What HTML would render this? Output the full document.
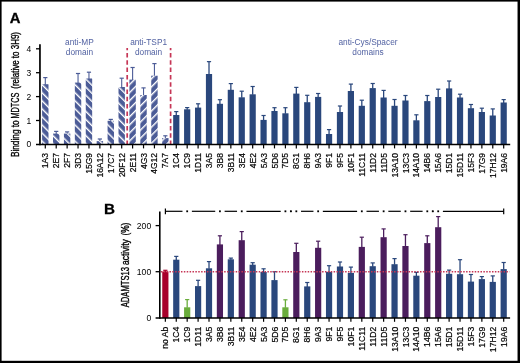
<!DOCTYPE html><html><head><meta charset="utf-8"><style>html,body{margin:0;padding:0;background:#fff;width:520px;height:363px;overflow:hidden}svg{display:block;will-change:transform}text{font-family:"Liberation Sans",sans-serif}</style></head><body>
<svg width="520" height="363" viewBox="0 0 520 363">
<defs>
<pattern id="hb" patternUnits="userSpaceOnUse" x="-1.76" width="5.7" height="5.7" patternTransform="rotate(-45)"><rect width="5.7" height="5.7" fill="#4c5c97"/><rect x="0" y="0" width="1.4" height="5.7" fill="#fff"/></pattern>
<pattern id="hf" patternUnits="userSpaceOnUse" x="2.48" width="5.7" height="5.7" patternTransform="rotate(45)"><rect width="5.7" height="5.7" fill="#4c5c97"/><rect x="0" y="0" width="1.4" height="5.7" fill="#fff"/></pattern>
</defs>
<rect x="0" y="0" width="520" height="363" fill="#fff"/>
<text x="9.8" y="23.0" font-size="14.8" font-weight="bold" stroke="#000" stroke-width="0.3" fill="#000">A</text>
<text x="103.9" y="213.6" font-size="15.2" font-weight="bold" stroke="#000" stroke-width="0.3" fill="#000">B</text>
<pattern id="hb0" patternUnits="userSpaceOnUse" x="-2.36" width="5.7" height="5.7" patternTransform="rotate(-45)"><rect width="5.7" height="5.7" fill="#4c5c97"/><rect x="0" y="0" width="1.4" height="5.7" fill="#fff"/></pattern>
<line x1="45.30" y1="77.60" x2="45.30" y2="84.70" stroke="#4c5c97" stroke-width="1.1"/>
<line x1="43.20" y1="77.60" x2="47.40" y2="77.60" stroke="#4c5c97" stroke-width="1.2"/>
<rect x="42.10" y="84.20" width="6.4" height="60.20" fill="url(#hb0)"/>
<pattern id="hb1" patternUnits="userSpaceOnUse" x="-2.20" width="5.7" height="5.7" patternTransform="rotate(-45)"><rect width="5.7" height="5.7" fill="#4c5c97"/><rect x="0" y="0" width="1.4" height="5.7" fill="#fff"/></pattern>
<line x1="56.21" y1="131.40" x2="56.21" y2="134.10" stroke="#4c5c97" stroke-width="1.1"/>
<line x1="54.11" y1="131.40" x2="58.31" y2="131.40" stroke="#4c5c97" stroke-width="1.2"/>
<rect x="53.01" y="133.60" width="6.4" height="10.80" fill="url(#hb1)"/>
<pattern id="hb2" patternUnits="userSpaceOnUse" x="-2.03" width="5.7" height="5.7" patternTransform="rotate(-45)"><rect width="5.7" height="5.7" fill="#4c5c97"/><rect x="0" y="0" width="1.4" height="5.7" fill="#fff"/></pattern>
<line x1="67.13" y1="131.90" x2="67.13" y2="134.10" stroke="#4c5c97" stroke-width="1.1"/>
<line x1="65.03" y1="131.90" x2="69.23" y2="131.90" stroke="#4c5c97" stroke-width="1.2"/>
<rect x="63.93" y="133.60" width="6.4" height="10.80" fill="url(#hb2)"/>
<pattern id="hb3" patternUnits="userSpaceOnUse" x="-1.86" width="5.7" height="5.7" patternTransform="rotate(-45)"><rect width="5.7" height="5.7" fill="#4c5c97"/><rect x="0" y="0" width="1.4" height="5.7" fill="#fff"/></pattern>
<line x1="78.04" y1="73.50" x2="78.04" y2="83.10" stroke="#4c5c97" stroke-width="1.1"/>
<line x1="75.94" y1="73.50" x2="80.14" y2="73.50" stroke="#4c5c97" stroke-width="1.2"/>
<rect x="74.84" y="82.60" width="6.4" height="61.80" fill="url(#hb3)"/>
<pattern id="hb4" patternUnits="userSpaceOnUse" x="-1.69" width="5.7" height="5.7" patternTransform="rotate(-45)"><rect width="5.7" height="5.7" fill="#4c5c97"/><rect x="0" y="0" width="1.4" height="5.7" fill="#fff"/></pattern>
<line x1="88.96" y1="72.20" x2="88.96" y2="79.00" stroke="#4c5c97" stroke-width="1.1"/>
<line x1="86.86" y1="72.20" x2="91.06" y2="72.20" stroke="#4c5c97" stroke-width="1.2"/>
<rect x="85.76" y="78.50" width="6.4" height="65.90" fill="url(#hb4)"/>
<pattern id="hb5" patternUnits="userSpaceOnUse" x="-1.53" width="5.7" height="5.7" patternTransform="rotate(-45)"><rect width="5.7" height="5.7" fill="#4c5c97"/><rect x="0" y="0" width="1.4" height="5.7" fill="#fff"/></pattern>
<line x1="99.87" y1="139.00" x2="99.87" y2="141.60" stroke="#4c5c97" stroke-width="1.1"/>
<line x1="97.77" y1="139.00" x2="101.97" y2="139.00" stroke="#4c5c97" stroke-width="1.2"/>
<rect x="96.67" y="141.10" width="6.4" height="3.30" fill="url(#hb5)"/>
<pattern id="hb6" patternUnits="userSpaceOnUse" x="-1.36" width="5.7" height="5.7" patternTransform="rotate(-45)"><rect width="5.7" height="5.7" fill="#4c5c97"/><rect x="0" y="0" width="1.4" height="5.7" fill="#fff"/></pattern>
<line x1="110.78" y1="119.40" x2="110.78" y2="121.30" stroke="#4c5c97" stroke-width="1.1"/>
<line x1="108.68" y1="119.40" x2="112.88" y2="119.40" stroke="#4c5c97" stroke-width="1.2"/>
<rect x="107.58" y="120.80" width="6.4" height="23.60" fill="url(#hb6)"/>
<pattern id="hb7" patternUnits="userSpaceOnUse" x="-1.19" width="5.7" height="5.7" patternTransform="rotate(-45)"><rect width="5.7" height="5.7" fill="#4c5c97"/><rect x="0" y="0" width="1.4" height="5.7" fill="#fff"/></pattern>
<line x1="121.70" y1="78.20" x2="121.70" y2="87.50" stroke="#4c5c97" stroke-width="1.1"/>
<line x1="119.60" y1="78.20" x2="123.80" y2="78.20" stroke="#4c5c97" stroke-width="1.2"/>
<rect x="118.50" y="87.00" width="6.4" height="57.40" fill="url(#hb7)"/>
<line x1="132.61" y1="67.50" x2="132.61" y2="80.10" stroke="#4c5c97" stroke-width="1.1"/>
<line x1="130.51" y1="67.50" x2="134.71" y2="67.50" stroke="#4c5c97" stroke-width="1.2"/>
<rect x="129.41" y="79.60" width="6.4" height="64.80" fill="url(#hf)"/>
<line x1="143.53" y1="87.90" x2="143.53" y2="95.50" stroke="#4c5c97" stroke-width="1.1"/>
<line x1="141.43" y1="87.90" x2="145.63" y2="87.90" stroke="#4c5c97" stroke-width="1.2"/>
<rect x="140.33" y="95.00" width="6.4" height="49.40" fill="url(#hf)"/>
<line x1="154.44" y1="63.60" x2="154.44" y2="76.20" stroke="#4c5c97" stroke-width="1.1"/>
<line x1="152.34" y1="63.60" x2="156.54" y2="63.60" stroke="#4c5c97" stroke-width="1.2"/>
<rect x="151.24" y="75.70" width="6.4" height="68.70" fill="url(#hf)"/>
<line x1="165.35" y1="135.80" x2="165.35" y2="138.60" stroke="#4c5c97" stroke-width="1.1"/>
<line x1="163.25" y1="135.80" x2="167.45" y2="135.80" stroke="#4c5c97" stroke-width="1.2"/>
<rect x="162.15" y="138.10" width="6.4" height="6.30" fill="url(#hf)"/>
<line x1="176.27" y1="111.60" x2="176.27" y2="115.50" stroke="#2a477c" stroke-width="1.3"/>
<line x1="174.17" y1="111.60" x2="178.37" y2="111.60" stroke="#2a477c" stroke-width="1.2"/>
<rect x="173.17" y="115.00" width="6.2" height="29.40" fill="#2a477c"/>
<line x1="187.18" y1="107.60" x2="187.18" y2="109.80" stroke="#2a477c" stroke-width="1.3"/>
<line x1="185.08" y1="107.60" x2="189.28" y2="107.60" stroke="#2a477c" stroke-width="1.2"/>
<rect x="184.08" y="109.30" width="6.2" height="35.10" fill="#2a477c"/>
<line x1="198.10" y1="103.80" x2="198.10" y2="108.10" stroke="#2a477c" stroke-width="1.3"/>
<line x1="196.00" y1="103.80" x2="200.20" y2="103.80" stroke="#2a477c" stroke-width="1.2"/>
<rect x="195.00" y="107.60" width="6.2" height="36.80" fill="#2a477c"/>
<line x1="209.01" y1="61.65" x2="209.01" y2="74.50" stroke="#2a477c" stroke-width="1.3"/>
<line x1="206.91" y1="61.65" x2="211.11" y2="61.65" stroke="#2a477c" stroke-width="1.2"/>
<rect x="205.91" y="74.00" width="6.2" height="70.40" fill="#2a477c"/>
<line x1="219.92" y1="99.70" x2="219.92" y2="104.30" stroke="#2a477c" stroke-width="1.3"/>
<line x1="217.82" y1="99.70" x2="222.02" y2="99.70" stroke="#2a477c" stroke-width="1.2"/>
<rect x="216.82" y="103.80" width="6.2" height="40.60" fill="#2a477c"/>
<line x1="230.84" y1="83.60" x2="230.84" y2="90.30" stroke="#2a477c" stroke-width="1.3"/>
<line x1="228.74" y1="83.60" x2="232.94" y2="83.60" stroke="#2a477c" stroke-width="1.2"/>
<rect x="227.74" y="89.80" width="6.2" height="54.60" fill="#2a477c"/>
<line x1="241.75" y1="91.20" x2="241.75" y2="97.80" stroke="#2a477c" stroke-width="1.3"/>
<line x1="239.65" y1="91.20" x2="243.85" y2="91.20" stroke="#2a477c" stroke-width="1.2"/>
<rect x="238.65" y="97.30" width="6.2" height="47.10" fill="#2a477c"/>
<line x1="252.67" y1="86.50" x2="252.67" y2="94.80" stroke="#2a477c" stroke-width="1.3"/>
<line x1="250.57" y1="86.50" x2="254.77" y2="86.50" stroke="#2a477c" stroke-width="1.2"/>
<rect x="249.57" y="94.30" width="6.2" height="50.10" fill="#2a477c"/>
<line x1="263.58" y1="115.50" x2="263.58" y2="120.40" stroke="#2a477c" stroke-width="1.3"/>
<line x1="261.48" y1="115.50" x2="265.68" y2="115.50" stroke="#2a477c" stroke-width="1.2"/>
<rect x="260.48" y="119.90" width="6.2" height="24.50" fill="#2a477c"/>
<line x1="274.49" y1="107.70" x2="274.49" y2="111.50" stroke="#2a477c" stroke-width="1.3"/>
<line x1="272.39" y1="107.70" x2="276.59" y2="107.70" stroke="#2a477c" stroke-width="1.2"/>
<rect x="271.39" y="111.00" width="6.2" height="33.40" fill="#2a477c"/>
<line x1="285.41" y1="107.70" x2="285.41" y2="113.80" stroke="#2a477c" stroke-width="1.3"/>
<line x1="283.31" y1="107.70" x2="287.51" y2="107.70" stroke="#2a477c" stroke-width="1.2"/>
<rect x="282.31" y="113.30" width="6.2" height="31.10" fill="#2a477c"/>
<line x1="296.32" y1="87.40" x2="296.32" y2="94.10" stroke="#2a477c" stroke-width="1.3"/>
<line x1="294.22" y1="87.40" x2="298.42" y2="87.40" stroke="#2a477c" stroke-width="1.2"/>
<rect x="293.22" y="93.60" width="6.2" height="50.80" fill="#2a477c"/>
<line x1="307.24" y1="95.30" x2="307.24" y2="102.70" stroke="#2a477c" stroke-width="1.3"/>
<line x1="305.14" y1="95.30" x2="309.34" y2="95.30" stroke="#2a477c" stroke-width="1.2"/>
<rect x="304.14" y="102.20" width="6.2" height="42.20" fill="#2a477c"/>
<line x1="318.15" y1="93.50" x2="318.15" y2="97.40" stroke="#2a477c" stroke-width="1.3"/>
<line x1="316.05" y1="93.50" x2="320.25" y2="93.50" stroke="#2a477c" stroke-width="1.2"/>
<rect x="315.05" y="96.90" width="6.2" height="47.50" fill="#2a477c"/>
<line x1="329.06" y1="129.60" x2="329.06" y2="134.50" stroke="#2a477c" stroke-width="1.3"/>
<line x1="326.96" y1="129.60" x2="331.16" y2="129.60" stroke="#2a477c" stroke-width="1.2"/>
<rect x="325.96" y="134.00" width="6.2" height="10.40" fill="#2a477c"/>
<line x1="339.98" y1="106.00" x2="339.98" y2="112.50" stroke="#2a477c" stroke-width="1.3"/>
<line x1="337.88" y1="106.00" x2="342.08" y2="106.00" stroke="#2a477c" stroke-width="1.2"/>
<rect x="336.88" y="112.00" width="6.2" height="32.40" fill="#2a477c"/>
<line x1="350.89" y1="84.10" x2="350.89" y2="91.50" stroke="#2a477c" stroke-width="1.3"/>
<line x1="348.79" y1="84.10" x2="352.99" y2="84.10" stroke="#2a477c" stroke-width="1.2"/>
<rect x="347.79" y="91.00" width="6.2" height="53.40" fill="#2a477c"/>
<line x1="361.81" y1="100.20" x2="361.81" y2="106.30" stroke="#2a477c" stroke-width="1.3"/>
<line x1="359.71" y1="100.20" x2="363.91" y2="100.20" stroke="#2a477c" stroke-width="1.2"/>
<rect x="358.71" y="105.80" width="6.2" height="38.60" fill="#2a477c"/>
<line x1="372.72" y1="83.50" x2="372.72" y2="88.60" stroke="#2a477c" stroke-width="1.3"/>
<line x1="370.62" y1="83.50" x2="374.82" y2="83.50" stroke="#2a477c" stroke-width="1.2"/>
<rect x="369.62" y="88.10" width="6.2" height="56.30" fill="#2a477c"/>
<line x1="383.63" y1="90.40" x2="383.63" y2="98.00" stroke="#2a477c" stroke-width="1.3"/>
<line x1="381.53" y1="90.40" x2="385.73" y2="90.40" stroke="#2a477c" stroke-width="1.2"/>
<rect x="380.53" y="97.50" width="6.2" height="46.90" fill="#2a477c"/>
<line x1="394.55" y1="99.50" x2="394.55" y2="106.30" stroke="#2a477c" stroke-width="1.3"/>
<line x1="392.45" y1="99.50" x2="396.65" y2="99.50" stroke="#2a477c" stroke-width="1.2"/>
<rect x="391.45" y="105.80" width="6.2" height="38.60" fill="#2a477c"/>
<line x1="405.46" y1="95.50" x2="405.46" y2="101.00" stroke="#2a477c" stroke-width="1.3"/>
<line x1="403.36" y1="95.50" x2="407.56" y2="95.50" stroke="#2a477c" stroke-width="1.2"/>
<rect x="402.36" y="100.50" width="6.2" height="43.90" fill="#2a477c"/>
<line x1="416.38" y1="114.80" x2="416.38" y2="120.80" stroke="#2a477c" stroke-width="1.3"/>
<line x1="414.28" y1="114.80" x2="418.48" y2="114.80" stroke="#2a477c" stroke-width="1.2"/>
<rect x="413.28" y="120.30" width="6.2" height="24.10" fill="#2a477c"/>
<line x1="427.29" y1="95.50" x2="427.29" y2="101.60" stroke="#2a477c" stroke-width="1.3"/>
<line x1="425.19" y1="95.50" x2="429.39" y2="95.50" stroke="#2a477c" stroke-width="1.2"/>
<rect x="424.19" y="101.10" width="6.2" height="43.30" fill="#2a477c"/>
<line x1="438.20" y1="89.20" x2="438.20" y2="97.50" stroke="#2a477c" stroke-width="1.3"/>
<line x1="436.10" y1="89.20" x2="440.30" y2="89.20" stroke="#2a477c" stroke-width="1.2"/>
<rect x="435.10" y="97.00" width="6.2" height="47.40" fill="#2a477c"/>
<line x1="449.12" y1="81.00" x2="449.12" y2="88.90" stroke="#2a477c" stroke-width="1.3"/>
<line x1="447.02" y1="81.00" x2="451.22" y2="81.00" stroke="#2a477c" stroke-width="1.2"/>
<rect x="446.02" y="88.40" width="6.2" height="56.00" fill="#2a477c"/>
<line x1="460.03" y1="94.20" x2="460.03" y2="98.00" stroke="#2a477c" stroke-width="1.3"/>
<line x1="457.93" y1="94.20" x2="462.13" y2="94.20" stroke="#2a477c" stroke-width="1.2"/>
<rect x="456.93" y="97.50" width="6.2" height="46.90" fill="#2a477c"/>
<line x1="470.95" y1="104.50" x2="470.95" y2="108.70" stroke="#2a477c" stroke-width="1.3"/>
<line x1="468.85" y1="104.50" x2="473.05" y2="104.50" stroke="#2a477c" stroke-width="1.2"/>
<rect x="467.85" y="108.20" width="6.2" height="36.20" fill="#2a477c"/>
<line x1="481.86" y1="108.20" x2="481.86" y2="112.50" stroke="#2a477c" stroke-width="1.3"/>
<line x1="479.76" y1="108.20" x2="483.96" y2="108.20" stroke="#2a477c" stroke-width="1.2"/>
<rect x="478.76" y="112.00" width="6.2" height="32.40" fill="#2a477c"/>
<line x1="492.77" y1="108.90" x2="492.77" y2="116.00" stroke="#2a477c" stroke-width="1.3"/>
<line x1="490.67" y1="108.90" x2="494.87" y2="108.90" stroke="#2a477c" stroke-width="1.2"/>
<rect x="489.67" y="115.50" width="6.2" height="28.90" fill="#2a477c"/>
<line x1="503.69" y1="99.60" x2="503.69" y2="103.00" stroke="#2a477c" stroke-width="1.3"/>
<line x1="501.59" y1="99.60" x2="505.79" y2="99.60" stroke="#2a477c" stroke-width="1.2"/>
<rect x="500.59" y="102.50" width="6.2" height="41.90" fill="#2a477c"/>
<line x1="127.2" y1="47.9" x2="127.2" y2="144" stroke="#c63656" stroke-width="1.7" stroke-dasharray="4.5 2.8" stroke-dashoffset="2.2"/>
<line x1="170.6" y1="47.9" x2="170.6" y2="144" stroke="#c63656" stroke-width="1.7" stroke-dasharray="4.5 2.8" stroke-dashoffset="2.2"/>
<line x1="39.95" y1="44.3" x2="39.95" y2="145.2" stroke="#000" stroke-width="1.7"/>
<line x1="36" y1="144.4" x2="510.2" y2="144.4" stroke="#000" stroke-width="1.5"/>
<line x1="36" y1="120.50" x2="40" y2="120.50" stroke="#000" stroke-width="1.3"/>
<line x1="36" y1="96.60" x2="40" y2="96.60" stroke="#000" stroke-width="1.3"/>
<line x1="36" y1="72.70" x2="40" y2="72.70" stroke="#000" stroke-width="1.3"/>
<line x1="36" y1="48.80" x2="40" y2="48.80" stroke="#000" stroke-width="1.3"/>
<text x="31.3" y="147.45" font-size="8.5" text-anchor="end" fill="#000">0</text>
<text x="31.3" y="123.55" font-size="8.5" text-anchor="end" fill="#000">1</text>
<text x="31.3" y="99.65" font-size="8.5" text-anchor="end" fill="#000">2</text>
<text x="31.3" y="75.75" font-size="8.5" text-anchor="end" fill="#000">3</text>
<text x="31.3" y="51.85" font-size="8.5" text-anchor="end" fill="#000">4</text>
<line x1="45.30" y1="144.4" x2="45.30" y2="148.4" stroke="#000" stroke-width="1.2"/>
<text transform="translate(48.35,153.0) rotate(-90)" font-size="8.5" text-anchor="end" fill="#000" stroke="#000" stroke-width="0.2">1A3</text>
<line x1="56.21" y1="144.4" x2="56.21" y2="148.4" stroke="#000" stroke-width="1.2"/>
<text transform="translate(59.26,153.0) rotate(-90)" font-size="8.5" text-anchor="end" fill="#000" stroke="#000" stroke-width="0.2">2E7</text>
<line x1="67.13" y1="144.4" x2="67.13" y2="148.4" stroke="#000" stroke-width="1.2"/>
<text transform="translate(70.18,153.0) rotate(-90)" font-size="8.5" text-anchor="end" fill="#000" stroke="#000" stroke-width="0.2">2F7</text>
<line x1="78.04" y1="144.4" x2="78.04" y2="148.4" stroke="#000" stroke-width="1.2"/>
<text transform="translate(81.09,153.0) rotate(-90)" font-size="8.5" text-anchor="end" fill="#000" stroke="#000" stroke-width="0.2">3D3</text>
<line x1="88.96" y1="144.4" x2="88.96" y2="148.4" stroke="#000" stroke-width="1.2"/>
<text transform="translate(92.01,153.0) rotate(-90)" font-size="8.5" text-anchor="end" fill="#000" stroke="#000" stroke-width="0.2">15G9</text>
<line x1="99.87" y1="144.4" x2="99.87" y2="148.4" stroke="#000" stroke-width="1.2"/>
<text transform="translate(102.92,153.0) rotate(-90)" font-size="8.5" text-anchor="end" fill="#000" stroke="#000" stroke-width="0.2">16A12</text>
<line x1="110.78" y1="144.4" x2="110.78" y2="148.4" stroke="#000" stroke-width="1.2"/>
<text transform="translate(113.83,153.0) rotate(-90)" font-size="8.5" text-anchor="end" fill="#000" stroke="#000" stroke-width="0.2">17C7</text>
<line x1="121.70" y1="144.4" x2="121.70" y2="148.4" stroke="#000" stroke-width="1.2"/>
<text transform="translate(124.75,153.0) rotate(-90)" font-size="8.5" text-anchor="end" fill="#000" stroke="#000" stroke-width="0.2">20F12</text>
<line x1="132.61" y1="144.4" x2="132.61" y2="148.4" stroke="#000" stroke-width="1.2"/>
<text transform="translate(135.66,153.0) rotate(-90)" font-size="8.5" text-anchor="end" fill="#000" stroke="#000" stroke-width="0.2">2E11</text>
<line x1="143.53" y1="144.4" x2="143.53" y2="148.4" stroke="#000" stroke-width="1.2"/>
<text transform="translate(146.58,153.0) rotate(-90)" font-size="8.5" text-anchor="end" fill="#000" stroke="#000" stroke-width="0.2">4G3</text>
<line x1="154.44" y1="144.4" x2="154.44" y2="148.4" stroke="#000" stroke-width="1.2"/>
<text transform="translate(157.49,153.0) rotate(-90)" font-size="8.5" text-anchor="end" fill="#000" stroke="#000" stroke-width="0.2">4G12</text>
<line x1="165.35" y1="144.4" x2="165.35" y2="148.4" stroke="#000" stroke-width="1.2"/>
<text transform="translate(168.40,153.0) rotate(-90)" font-size="8.5" text-anchor="end" fill="#000" stroke="#000" stroke-width="0.2">7A7</text>
<line x1="176.27" y1="144.4" x2="176.27" y2="148.4" stroke="#000" stroke-width="1.2"/>
<text transform="translate(179.32,153.0) rotate(-90)" font-size="8.5" text-anchor="end" fill="#000" stroke="#000" stroke-width="0.2">1C4</text>
<line x1="187.18" y1="144.4" x2="187.18" y2="148.4" stroke="#000" stroke-width="1.2"/>
<text transform="translate(190.23,153.0) rotate(-90)" font-size="8.5" text-anchor="end" fill="#000" stroke="#000" stroke-width="0.2">1C9</text>
<line x1="198.10" y1="144.4" x2="198.10" y2="148.4" stroke="#000" stroke-width="1.2"/>
<text transform="translate(201.15,153.0) rotate(-90)" font-size="8.5" text-anchor="end" fill="#000" stroke="#000" stroke-width="0.2">1D11</text>
<line x1="209.01" y1="144.4" x2="209.01" y2="148.4" stroke="#000" stroke-width="1.2"/>
<text transform="translate(212.06,153.0) rotate(-90)" font-size="8.5" text-anchor="end" fill="#000" stroke="#000" stroke-width="0.2">3A5</text>
<line x1="219.92" y1="144.4" x2="219.92" y2="148.4" stroke="#000" stroke-width="1.2"/>
<text transform="translate(222.97,153.0) rotate(-90)" font-size="8.5" text-anchor="end" fill="#000" stroke="#000" stroke-width="0.2">3B8</text>
<line x1="230.84" y1="144.4" x2="230.84" y2="148.4" stroke="#000" stroke-width="1.2"/>
<text transform="translate(233.89,153.0) rotate(-90)" font-size="8.5" text-anchor="end" fill="#000" stroke="#000" stroke-width="0.2">3B11</text>
<line x1="241.75" y1="144.4" x2="241.75" y2="148.4" stroke="#000" stroke-width="1.2"/>
<text transform="translate(244.80,153.0) rotate(-90)" font-size="8.5" text-anchor="end" fill="#000" stroke="#000" stroke-width="0.2">3E4</text>
<line x1="252.67" y1="144.4" x2="252.67" y2="148.4" stroke="#000" stroke-width="1.2"/>
<text transform="translate(255.72,153.0) rotate(-90)" font-size="8.5" text-anchor="end" fill="#000" stroke="#000" stroke-width="0.2">4E2</text>
<line x1="263.58" y1="144.4" x2="263.58" y2="148.4" stroke="#000" stroke-width="1.2"/>
<text transform="translate(266.63,153.0) rotate(-90)" font-size="8.5" text-anchor="end" fill="#000" stroke="#000" stroke-width="0.2">5A3</text>
<line x1="274.49" y1="144.4" x2="274.49" y2="148.4" stroke="#000" stroke-width="1.2"/>
<text transform="translate(277.54,153.0) rotate(-90)" font-size="8.5" text-anchor="end" fill="#000" stroke="#000" stroke-width="0.2">5D6</text>
<line x1="285.41" y1="144.4" x2="285.41" y2="148.4" stroke="#000" stroke-width="1.2"/>
<text transform="translate(288.46,153.0) rotate(-90)" font-size="8.5" text-anchor="end" fill="#000" stroke="#000" stroke-width="0.2">7D5</text>
<line x1="296.32" y1="144.4" x2="296.32" y2="148.4" stroke="#000" stroke-width="1.2"/>
<text transform="translate(299.37,153.0) rotate(-90)" font-size="8.5" text-anchor="end" fill="#000" stroke="#000" stroke-width="0.2">8G1</text>
<line x1="307.24" y1="144.4" x2="307.24" y2="148.4" stroke="#000" stroke-width="1.2"/>
<text transform="translate(310.29,153.0) rotate(-90)" font-size="8.5" text-anchor="end" fill="#000" stroke="#000" stroke-width="0.2">8H6</text>
<line x1="318.15" y1="144.4" x2="318.15" y2="148.4" stroke="#000" stroke-width="1.2"/>
<text transform="translate(321.20,153.0) rotate(-90)" font-size="8.5" text-anchor="end" fill="#000" stroke="#000" stroke-width="0.2">9A3</text>
<line x1="329.06" y1="144.4" x2="329.06" y2="148.4" stroke="#000" stroke-width="1.2"/>
<text transform="translate(332.11,153.0) rotate(-90)" font-size="8.5" text-anchor="end" fill="#000" stroke="#000" stroke-width="0.2">9F1</text>
<line x1="339.98" y1="144.4" x2="339.98" y2="148.4" stroke="#000" stroke-width="1.2"/>
<text transform="translate(343.03,153.0) rotate(-90)" font-size="8.5" text-anchor="end" fill="#000" stroke="#000" stroke-width="0.2">9F5</text>
<line x1="350.89" y1="144.4" x2="350.89" y2="148.4" stroke="#000" stroke-width="1.2"/>
<text transform="translate(353.94,153.0) rotate(-90)" font-size="8.5" text-anchor="end" fill="#000" stroke="#000" stroke-width="0.2">10F1</text>
<line x1="361.81" y1="144.4" x2="361.81" y2="148.4" stroke="#000" stroke-width="1.2"/>
<text transform="translate(364.86,153.0) rotate(-90)" font-size="8.5" text-anchor="end" fill="#000" stroke="#000" stroke-width="0.2">11C11</text>
<line x1="372.72" y1="144.4" x2="372.72" y2="148.4" stroke="#000" stroke-width="1.2"/>
<text transform="translate(375.77,153.0) rotate(-90)" font-size="8.5" text-anchor="end" fill="#000" stroke="#000" stroke-width="0.2">11D2</text>
<line x1="383.63" y1="144.4" x2="383.63" y2="148.4" stroke="#000" stroke-width="1.2"/>
<text transform="translate(386.68,153.0) rotate(-90)" font-size="8.5" text-anchor="end" fill="#000" stroke="#000" stroke-width="0.2">11D5</text>
<line x1="394.55" y1="144.4" x2="394.55" y2="148.4" stroke="#000" stroke-width="1.2"/>
<text transform="translate(397.60,153.0) rotate(-90)" font-size="8.5" text-anchor="end" fill="#000" stroke="#000" stroke-width="0.2">13A10</text>
<line x1="405.46" y1="144.4" x2="405.46" y2="148.4" stroke="#000" stroke-width="1.2"/>
<text transform="translate(408.51,153.0) rotate(-90)" font-size="8.5" text-anchor="end" fill="#000" stroke="#000" stroke-width="0.2">13C3</text>
<line x1="416.38" y1="144.4" x2="416.38" y2="148.4" stroke="#000" stroke-width="1.2"/>
<text transform="translate(419.43,153.0) rotate(-90)" font-size="8.5" text-anchor="end" fill="#000" stroke="#000" stroke-width="0.2">14A10</text>
<line x1="427.29" y1="144.4" x2="427.29" y2="148.4" stroke="#000" stroke-width="1.2"/>
<text transform="translate(430.34,153.0) rotate(-90)" font-size="8.5" text-anchor="end" fill="#000" stroke="#000" stroke-width="0.2">14B6</text>
<line x1="438.20" y1="144.4" x2="438.20" y2="148.4" stroke="#000" stroke-width="1.2"/>
<text transform="translate(441.25,153.0) rotate(-90)" font-size="8.5" text-anchor="end" fill="#000" stroke="#000" stroke-width="0.2">15A6</text>
<line x1="449.12" y1="144.4" x2="449.12" y2="148.4" stroke="#000" stroke-width="1.2"/>
<text transform="translate(452.17,153.0) rotate(-90)" font-size="8.5" text-anchor="end" fill="#000" stroke="#000" stroke-width="0.2">15D1</text>
<line x1="460.03" y1="144.4" x2="460.03" y2="148.4" stroke="#000" stroke-width="1.2"/>
<text transform="translate(463.08,153.0) rotate(-90)" font-size="8.5" text-anchor="end" fill="#000" stroke="#000" stroke-width="0.2">15D11</text>
<line x1="470.95" y1="144.4" x2="470.95" y2="148.4" stroke="#000" stroke-width="1.2"/>
<text transform="translate(474.00,153.0) rotate(-90)" font-size="8.5" text-anchor="end" fill="#000" stroke="#000" stroke-width="0.2">15F3</text>
<line x1="481.86" y1="144.4" x2="481.86" y2="148.4" stroke="#000" stroke-width="1.2"/>
<text transform="translate(484.91,153.0) rotate(-90)" font-size="8.5" text-anchor="end" fill="#000" stroke="#000" stroke-width="0.2">17G9</text>
<line x1="492.77" y1="144.4" x2="492.77" y2="148.4" stroke="#000" stroke-width="1.2"/>
<text transform="translate(495.82,153.0) rotate(-90)" font-size="8.5" text-anchor="end" fill="#000" stroke="#000" stroke-width="0.2">17H12</text>
<line x1="503.69" y1="144.4" x2="503.69" y2="148.4" stroke="#000" stroke-width="1.2"/>
<text transform="translate(506.74,153.0) rotate(-90)" font-size="8.5" text-anchor="end" fill="#000" stroke="#000" stroke-width="0.2">19A6</text>
<text transform="translate(18.8,157.1) rotate(-90)" font-size="10.7" stroke="#000" stroke-width="0.35" textLength="36.8" lengthAdjust="spacingAndGlyphs" fill="#000">Binding to</text>
<text transform="translate(18.8,118.6) rotate(-90)" font-size="10.7" stroke="#000" stroke-width="0.35" textLength="26.0" lengthAdjust="spacingAndGlyphs" fill="#000">MDTCS</text>
<text transform="translate(18.8,88.7) rotate(-90)" font-size="10.7" stroke="#000" stroke-width="0.35" textLength="56.7" lengthAdjust="spacingAndGlyphs" fill="#000">(relative to 3H9)</text>
<text x="79.4" y="44.5" font-size="8.3" text-anchor="middle" fill="#5262a2">anti-MP</text>
<text x="79.4" y="54.6" font-size="8.3" text-anchor="middle" fill="#5262a2">domain</text>
<text x="148.6" y="44.5" font-size="8.3" text-anchor="middle" fill="#5262a2">anti-TSP1</text>
<text x="148.6" y="54.6" font-size="8.3" text-anchor="middle" fill="#5262a2">domain</text>
<text x="368" y="44.5" font-size="8.3" text-anchor="middle" fill="#5262a2">anti-Cys/Spacer</text>
<text x="368" y="54.6" font-size="8.3" text-anchor="middle" fill="#5262a2">domains</text>
<line x1="165.35" y1="270.30" x2="165.35" y2="272.00" stroke="#a8002c" stroke-width="1.3"/>
<line x1="163.25" y1="270.30" x2="167.45" y2="270.30" stroke="#a8002c" stroke-width="1.2"/>
<rect x="162.25" y="271.50" width="6.2" height="46.50" fill="#a8002c"/>
<line x1="176.27" y1="256.40" x2="176.27" y2="260.20" stroke="#2a477c" stroke-width="1.3"/>
<line x1="174.17" y1="256.40" x2="178.37" y2="256.40" stroke="#2a477c" stroke-width="1.2"/>
<rect x="173.17" y="259.70" width="6.2" height="58.30" fill="#2a477c"/>
<line x1="187.18" y1="299.60" x2="187.18" y2="307.80" stroke="#6aad3c" stroke-width="1.3"/>
<line x1="185.08" y1="299.60" x2="189.28" y2="299.60" stroke="#6aad3c" stroke-width="1.2"/>
<rect x="184.08" y="307.30" width="6.2" height="10.70" fill="#6aad3c"/>
<line x1="198.10" y1="280.30" x2="198.10" y2="286.60" stroke="#2a477c" stroke-width="1.3"/>
<line x1="196.00" y1="280.30" x2="200.20" y2="280.30" stroke="#2a477c" stroke-width="1.2"/>
<rect x="195.00" y="286.10" width="6.2" height="31.90" fill="#2a477c"/>
<line x1="209.01" y1="261.60" x2="209.01" y2="268.80" stroke="#2a477c" stroke-width="1.3"/>
<line x1="206.91" y1="261.60" x2="211.11" y2="261.60" stroke="#2a477c" stroke-width="1.2"/>
<rect x="205.91" y="268.30" width="6.2" height="49.70" fill="#2a477c"/>
<line x1="219.92" y1="235.80" x2="219.92" y2="244.90" stroke="#4b1d5d" stroke-width="1.3"/>
<line x1="217.82" y1="235.80" x2="222.02" y2="235.80" stroke="#4b1d5d" stroke-width="1.2"/>
<rect x="216.82" y="244.40" width="6.2" height="73.60" fill="#4b1d5d"/>
<line x1="230.84" y1="258.10" x2="230.84" y2="259.80" stroke="#2a477c" stroke-width="1.3"/>
<line x1="228.74" y1="258.10" x2="232.94" y2="258.10" stroke="#2a477c" stroke-width="1.2"/>
<rect x="227.74" y="259.30" width="6.2" height="58.70" fill="#2a477c"/>
<line x1="241.75" y1="231.60" x2="241.75" y2="240.70" stroke="#4b1d5d" stroke-width="1.3"/>
<line x1="239.65" y1="231.60" x2="243.85" y2="231.60" stroke="#4b1d5d" stroke-width="1.2"/>
<rect x="238.65" y="240.20" width="6.2" height="77.80" fill="#4b1d5d"/>
<line x1="252.67" y1="262.70" x2="252.67" y2="265.20" stroke="#2a477c" stroke-width="1.3"/>
<line x1="250.57" y1="262.70" x2="254.77" y2="262.70" stroke="#2a477c" stroke-width="1.2"/>
<rect x="249.57" y="264.70" width="6.2" height="53.30" fill="#2a477c"/>
<line x1="263.58" y1="268.80" x2="263.58" y2="272.50" stroke="#2a477c" stroke-width="1.3"/>
<line x1="261.48" y1="268.80" x2="265.68" y2="268.80" stroke="#2a477c" stroke-width="1.2"/>
<rect x="260.48" y="272.00" width="6.2" height="46.00" fill="#2a477c"/>
<line x1="274.49" y1="271.70" x2="274.49" y2="280.60" stroke="#2a477c" stroke-width="1.3"/>
<line x1="272.39" y1="271.70" x2="276.59" y2="271.70" stroke="#2a477c" stroke-width="1.2"/>
<rect x="271.39" y="280.10" width="6.2" height="37.90" fill="#2a477c"/>
<line x1="285.41" y1="299.80" x2="285.41" y2="307.80" stroke="#6aad3c" stroke-width="1.3"/>
<line x1="283.31" y1="299.80" x2="287.51" y2="299.80" stroke="#6aad3c" stroke-width="1.2"/>
<rect x="282.31" y="307.30" width="6.2" height="10.70" fill="#6aad3c"/>
<line x1="296.32" y1="243.30" x2="296.32" y2="252.50" stroke="#4b1d5d" stroke-width="1.3"/>
<line x1="294.22" y1="243.30" x2="298.42" y2="243.30" stroke="#4b1d5d" stroke-width="1.2"/>
<rect x="293.22" y="252.00" width="6.2" height="66.00" fill="#4b1d5d"/>
<line x1="307.24" y1="282.50" x2="307.24" y2="286.90" stroke="#2a477c" stroke-width="1.3"/>
<line x1="305.14" y1="282.50" x2="309.34" y2="282.50" stroke="#2a477c" stroke-width="1.2"/>
<rect x="304.14" y="286.40" width="6.2" height="31.60" fill="#2a477c"/>
<line x1="318.15" y1="241.20" x2="318.15" y2="248.30" stroke="#4b1d5d" stroke-width="1.3"/>
<line x1="316.05" y1="241.20" x2="320.25" y2="241.20" stroke="#4b1d5d" stroke-width="1.2"/>
<rect x="315.05" y="247.80" width="6.2" height="70.20" fill="#4b1d5d"/>
<line x1="329.06" y1="265.70" x2="329.06" y2="272.40" stroke="#2a477c" stroke-width="1.3"/>
<line x1="326.96" y1="265.70" x2="331.16" y2="265.70" stroke="#2a477c" stroke-width="1.2"/>
<rect x="325.96" y="271.90" width="6.2" height="46.10" fill="#2a477c"/>
<line x1="339.98" y1="262.00" x2="339.98" y2="267.00" stroke="#2a477c" stroke-width="1.3"/>
<line x1="337.88" y1="262.00" x2="342.08" y2="262.00" stroke="#2a477c" stroke-width="1.2"/>
<rect x="336.88" y="266.50" width="6.2" height="51.50" fill="#2a477c"/>
<line x1="350.89" y1="267.10" x2="350.89" y2="273.40" stroke="#2a477c" stroke-width="1.3"/>
<line x1="348.79" y1="267.10" x2="352.99" y2="267.10" stroke="#2a477c" stroke-width="1.2"/>
<rect x="347.79" y="272.90" width="6.2" height="45.10" fill="#2a477c"/>
<line x1="361.81" y1="237.20" x2="361.81" y2="247.40" stroke="#4b1d5d" stroke-width="1.3"/>
<line x1="359.71" y1="237.20" x2="363.91" y2="237.20" stroke="#4b1d5d" stroke-width="1.2"/>
<rect x="358.71" y="246.90" width="6.2" height="71.10" fill="#4b1d5d"/>
<line x1="372.72" y1="262.90" x2="372.72" y2="266.70" stroke="#2a477c" stroke-width="1.3"/>
<line x1="370.62" y1="262.90" x2="374.82" y2="262.90" stroke="#2a477c" stroke-width="1.2"/>
<rect x="369.62" y="266.20" width="6.2" height="51.80" fill="#2a477c"/>
<line x1="383.63" y1="228.90" x2="383.63" y2="237.70" stroke="#4b1d5d" stroke-width="1.3"/>
<line x1="381.53" y1="228.90" x2="385.73" y2="228.90" stroke="#4b1d5d" stroke-width="1.2"/>
<rect x="380.53" y="237.20" width="6.2" height="80.80" fill="#4b1d5d"/>
<line x1="394.55" y1="258.60" x2="394.55" y2="264.70" stroke="#2a477c" stroke-width="1.3"/>
<line x1="392.45" y1="258.60" x2="396.65" y2="258.60" stroke="#2a477c" stroke-width="1.2"/>
<rect x="391.45" y="264.20" width="6.2" height="53.80" fill="#2a477c"/>
<line x1="405.46" y1="234.70" x2="405.46" y2="246.50" stroke="#4b1d5d" stroke-width="1.3"/>
<line x1="403.36" y1="234.70" x2="407.56" y2="234.70" stroke="#4b1d5d" stroke-width="1.2"/>
<rect x="402.36" y="246.00" width="6.2" height="72.00" fill="#4b1d5d"/>
<line x1="416.38" y1="272.40" x2="416.38" y2="276.20" stroke="#2a477c" stroke-width="1.3"/>
<line x1="414.28" y1="272.40" x2="418.48" y2="272.40" stroke="#2a477c" stroke-width="1.2"/>
<rect x="413.28" y="275.70" width="6.2" height="42.30" fill="#2a477c"/>
<line x1="427.29" y1="235.80" x2="427.29" y2="243.60" stroke="#4b1d5d" stroke-width="1.3"/>
<line x1="425.19" y1="235.80" x2="429.39" y2="235.80" stroke="#4b1d5d" stroke-width="1.2"/>
<rect x="424.19" y="243.10" width="6.2" height="74.90" fill="#4b1d5d"/>
<line x1="438.20" y1="216.60" x2="438.20" y2="227.70" stroke="#4b1d5d" stroke-width="1.3"/>
<line x1="436.10" y1="216.60" x2="440.30" y2="216.60" stroke="#4b1d5d" stroke-width="1.2"/>
<rect x="435.10" y="227.20" width="6.2" height="90.80" fill="#4b1d5d"/>
<line x1="449.12" y1="270.10" x2="449.12" y2="274.30" stroke="#2a477c" stroke-width="1.3"/>
<line x1="447.02" y1="270.10" x2="451.22" y2="270.10" stroke="#2a477c" stroke-width="1.2"/>
<rect x="446.02" y="273.80" width="6.2" height="44.20" fill="#2a477c"/>
<line x1="460.03" y1="259.70" x2="460.03" y2="274.70" stroke="#2a477c" stroke-width="1.3"/>
<line x1="457.93" y1="259.70" x2="462.13" y2="259.70" stroke="#2a477c" stroke-width="1.2"/>
<rect x="456.93" y="274.20" width="6.2" height="43.80" fill="#2a477c"/>
<line x1="470.95" y1="274.50" x2="470.95" y2="282.10" stroke="#2a477c" stroke-width="1.3"/>
<line x1="468.85" y1="274.50" x2="473.05" y2="274.50" stroke="#2a477c" stroke-width="1.2"/>
<rect x="467.85" y="281.60" width="6.2" height="36.40" fill="#2a477c"/>
<line x1="481.86" y1="276.60" x2="481.86" y2="279.60" stroke="#2a477c" stroke-width="1.3"/>
<line x1="479.76" y1="276.60" x2="483.96" y2="276.60" stroke="#2a477c" stroke-width="1.2"/>
<rect x="478.76" y="279.10" width="6.2" height="38.90" fill="#2a477c"/>
<line x1="492.77" y1="275.90" x2="492.77" y2="282.40" stroke="#2a477c" stroke-width="1.3"/>
<line x1="490.67" y1="275.90" x2="494.87" y2="275.90" stroke="#2a477c" stroke-width="1.2"/>
<rect x="489.67" y="281.90" width="6.2" height="36.10" fill="#2a477c"/>
<line x1="503.69" y1="262.50" x2="503.69" y2="269.60" stroke="#2a477c" stroke-width="1.3"/>
<line x1="501.59" y1="262.50" x2="505.79" y2="262.50" stroke="#2a477c" stroke-width="1.2"/>
<rect x="500.59" y="269.10" width="6.2" height="48.90" fill="#2a477c"/>
<line x1="160.8" y1="271.8" x2="509.5" y2="271.8" stroke="#c63656" stroke-width="1.6" stroke-dasharray="1.5 1.38"/>
<line x1="159.8" y1="211.4" x2="159.8" y2="318.8" stroke="#000" stroke-width="1.6"/>
<line x1="155.6" y1="318.0" x2="510.1" y2="318.0" stroke="#000" stroke-width="1.5"/>
<line x1="155.6" y1="271.7" x2="160" y2="271.7" stroke="#000" stroke-width="1.3"/>
<line x1="155.6" y1="225.6" x2="160" y2="225.6" stroke="#000" stroke-width="1.3"/>
<text x="151.2" y="321.10" font-size="8.6" text-anchor="end" fill="#000">0</text>
<text x="151.2" y="274.80" font-size="8.6" text-anchor="end" fill="#000">100</text>
<text x="151.2" y="228.70" font-size="8.6" text-anchor="end" fill="#000">200</text>
<line x1="165.35" y1="318.0" x2="165.35" y2="321.8" stroke="#000" stroke-width="1.2"/>
<text transform="translate(168.40,326.8) rotate(-90)" font-size="8.6" text-anchor="end" fill="#000" stroke="#000" stroke-width="0.2">no Ab</text>
<line x1="176.27" y1="318.0" x2="176.27" y2="321.8" stroke="#000" stroke-width="1.2"/>
<text transform="translate(179.32,326.8) rotate(-90)" font-size="8.6" text-anchor="end" fill="#000" stroke="#000" stroke-width="0.2">1C4</text>
<line x1="187.18" y1="318.0" x2="187.18" y2="321.8" stroke="#000" stroke-width="1.2"/>
<text transform="translate(190.23,326.8) rotate(-90)" font-size="8.6" text-anchor="end" fill="#000" stroke="#000" stroke-width="0.2">1C9</text>
<line x1="198.10" y1="318.0" x2="198.10" y2="321.8" stroke="#000" stroke-width="1.2"/>
<text transform="translate(201.15,326.8) rotate(-90)" font-size="8.6" text-anchor="end" fill="#000" stroke="#000" stroke-width="0.2">1D11</text>
<line x1="209.01" y1="318.0" x2="209.01" y2="321.8" stroke="#000" stroke-width="1.2"/>
<text transform="translate(212.06,326.8) rotate(-90)" font-size="8.6" text-anchor="end" fill="#000" stroke="#000" stroke-width="0.2">3A5</text>
<line x1="219.92" y1="318.0" x2="219.92" y2="321.8" stroke="#000" stroke-width="1.2"/>
<text transform="translate(222.97,326.8) rotate(-90)" font-size="8.6" text-anchor="end" fill="#000" stroke="#000" stroke-width="0.2">3B8</text>
<line x1="230.84" y1="318.0" x2="230.84" y2="321.8" stroke="#000" stroke-width="1.2"/>
<text transform="translate(233.89,326.8) rotate(-90)" font-size="8.6" text-anchor="end" fill="#000" stroke="#000" stroke-width="0.2">3B11</text>
<line x1="241.75" y1="318.0" x2="241.75" y2="321.8" stroke="#000" stroke-width="1.2"/>
<text transform="translate(244.80,326.8) rotate(-90)" font-size="8.6" text-anchor="end" fill="#000" stroke="#000" stroke-width="0.2">3E4</text>
<line x1="252.67" y1="318.0" x2="252.67" y2="321.8" stroke="#000" stroke-width="1.2"/>
<text transform="translate(255.72,326.8) rotate(-90)" font-size="8.6" text-anchor="end" fill="#000" stroke="#000" stroke-width="0.2">4E2</text>
<line x1="263.58" y1="318.0" x2="263.58" y2="321.8" stroke="#000" stroke-width="1.2"/>
<text transform="translate(266.63,326.8) rotate(-90)" font-size="8.6" text-anchor="end" fill="#000" stroke="#000" stroke-width="0.2">5A3</text>
<line x1="274.49" y1="318.0" x2="274.49" y2="321.8" stroke="#000" stroke-width="1.2"/>
<text transform="translate(277.54,326.8) rotate(-90)" font-size="8.6" text-anchor="end" fill="#000" stroke="#000" stroke-width="0.2">5D6</text>
<line x1="285.41" y1="318.0" x2="285.41" y2="321.8" stroke="#000" stroke-width="1.2"/>
<text transform="translate(288.46,326.8) rotate(-90)" font-size="8.6" text-anchor="end" fill="#000" stroke="#000" stroke-width="0.2">7D5</text>
<line x1="296.32" y1="318.0" x2="296.32" y2="321.8" stroke="#000" stroke-width="1.2"/>
<text transform="translate(299.37,326.8) rotate(-90)" font-size="8.6" text-anchor="end" fill="#000" stroke="#000" stroke-width="0.2">8G1</text>
<line x1="307.24" y1="318.0" x2="307.24" y2="321.8" stroke="#000" stroke-width="1.2"/>
<text transform="translate(310.29,326.8) rotate(-90)" font-size="8.6" text-anchor="end" fill="#000" stroke="#000" stroke-width="0.2">8H6</text>
<line x1="318.15" y1="318.0" x2="318.15" y2="321.8" stroke="#000" stroke-width="1.2"/>
<text transform="translate(321.20,326.8) rotate(-90)" font-size="8.6" text-anchor="end" fill="#000" stroke="#000" stroke-width="0.2">9A3</text>
<line x1="329.06" y1="318.0" x2="329.06" y2="321.8" stroke="#000" stroke-width="1.2"/>
<text transform="translate(332.11,326.8) rotate(-90)" font-size="8.6" text-anchor="end" fill="#000" stroke="#000" stroke-width="0.2">9F1</text>
<line x1="339.98" y1="318.0" x2="339.98" y2="321.8" stroke="#000" stroke-width="1.2"/>
<text transform="translate(343.03,326.8) rotate(-90)" font-size="8.6" text-anchor="end" fill="#000" stroke="#000" stroke-width="0.2">9F5</text>
<line x1="350.89" y1="318.0" x2="350.89" y2="321.8" stroke="#000" stroke-width="1.2"/>
<text transform="translate(353.94,326.8) rotate(-90)" font-size="8.6" text-anchor="end" fill="#000" stroke="#000" stroke-width="0.2">10F1</text>
<line x1="361.81" y1="318.0" x2="361.81" y2="321.8" stroke="#000" stroke-width="1.2"/>
<text transform="translate(364.86,326.8) rotate(-90)" font-size="8.6" text-anchor="end" fill="#000" stroke="#000" stroke-width="0.2">11C11</text>
<line x1="372.72" y1="318.0" x2="372.72" y2="321.8" stroke="#000" stroke-width="1.2"/>
<text transform="translate(375.77,326.8) rotate(-90)" font-size="8.6" text-anchor="end" fill="#000" stroke="#000" stroke-width="0.2">11D2</text>
<line x1="383.63" y1="318.0" x2="383.63" y2="321.8" stroke="#000" stroke-width="1.2"/>
<text transform="translate(386.68,326.8) rotate(-90)" font-size="8.6" text-anchor="end" fill="#000" stroke="#000" stroke-width="0.2">11D5</text>
<line x1="394.55" y1="318.0" x2="394.55" y2="321.8" stroke="#000" stroke-width="1.2"/>
<text transform="translate(397.60,326.8) rotate(-90)" font-size="8.6" text-anchor="end" fill="#000" stroke="#000" stroke-width="0.2">13A10</text>
<line x1="405.46" y1="318.0" x2="405.46" y2="321.8" stroke="#000" stroke-width="1.2"/>
<text transform="translate(408.51,326.8) rotate(-90)" font-size="8.6" text-anchor="end" fill="#000" stroke="#000" stroke-width="0.2">13C3</text>
<line x1="416.38" y1="318.0" x2="416.38" y2="321.8" stroke="#000" stroke-width="1.2"/>
<text transform="translate(419.43,326.8) rotate(-90)" font-size="8.6" text-anchor="end" fill="#000" stroke="#000" stroke-width="0.2">14A10</text>
<line x1="427.29" y1="318.0" x2="427.29" y2="321.8" stroke="#000" stroke-width="1.2"/>
<text transform="translate(430.34,326.8) rotate(-90)" font-size="8.6" text-anchor="end" fill="#000" stroke="#000" stroke-width="0.2">14B6</text>
<line x1="438.20" y1="318.0" x2="438.20" y2="321.8" stroke="#000" stroke-width="1.2"/>
<text transform="translate(441.25,326.8) rotate(-90)" font-size="8.6" text-anchor="end" fill="#000" stroke="#000" stroke-width="0.2">15A6</text>
<line x1="449.12" y1="318.0" x2="449.12" y2="321.8" stroke="#000" stroke-width="1.2"/>
<text transform="translate(452.17,326.8) rotate(-90)" font-size="8.6" text-anchor="end" fill="#000" stroke="#000" stroke-width="0.2">15D1</text>
<line x1="460.03" y1="318.0" x2="460.03" y2="321.8" stroke="#000" stroke-width="1.2"/>
<text transform="translate(463.08,326.8) rotate(-90)" font-size="8.6" text-anchor="end" fill="#000" stroke="#000" stroke-width="0.2">15D11</text>
<line x1="470.95" y1="318.0" x2="470.95" y2="321.8" stroke="#000" stroke-width="1.2"/>
<text transform="translate(474.00,326.8) rotate(-90)" font-size="8.6" text-anchor="end" fill="#000" stroke="#000" stroke-width="0.2">15F3</text>
<line x1="481.86" y1="318.0" x2="481.86" y2="321.8" stroke="#000" stroke-width="1.2"/>
<text transform="translate(484.91,326.8) rotate(-90)" font-size="8.6" text-anchor="end" fill="#000" stroke="#000" stroke-width="0.2">17G9</text>
<line x1="492.77" y1="318.0" x2="492.77" y2="321.8" stroke="#000" stroke-width="1.2"/>
<text transform="translate(495.82,326.8) rotate(-90)" font-size="8.6" text-anchor="end" fill="#000" stroke="#000" stroke-width="0.2">17H12</text>
<line x1="503.69" y1="318.0" x2="503.69" y2="321.8" stroke="#000" stroke-width="1.2"/>
<text transform="translate(506.74,326.8) rotate(-90)" font-size="8.6" text-anchor="end" fill="#000" stroke="#000" stroke-width="0.2">19A6</text>
<text transform="translate(128.9,307.3) rotate(-90)" font-size="10.6" stroke="#000" stroke-width="0.35" textLength="40.3" lengthAdjust="spacingAndGlyphs" fill="#000">ADAMTS13</text>
<text transform="translate(128.9,265.0) rotate(-90)" font-size="10.6" stroke="#000" stroke-width="0.35" textLength="25.8" lengthAdjust="spacingAndGlyphs" fill="#000">activity</text>
<text transform="translate(128.9,235.6) rotate(-90)" font-size="10.6" stroke="#000" stroke-width="0.35" textLength="13.0" lengthAdjust="spacingAndGlyphs" fill="#000">(%)</text>
<line x1="165.40" y1="211.3" x2="182.48" y2="211.3" stroke="#000" stroke-width="1.2"/>
<line x1="191.88" y1="211.3" x2="215.22" y2="211.3" stroke="#000" stroke-width="1.2"/>
<line x1="224.62" y1="211.3" x2="237.05" y2="211.3" stroke="#000" stroke-width="1.2"/>
<line x1="246.45" y1="211.3" x2="280.71" y2="211.3" stroke="#000" stroke-width="1.2"/>
<line x1="290.11" y1="211.3" x2="291.62" y2="211.3" stroke="#000" stroke-width="1.2"/>
<line x1="301.02" y1="211.3" x2="313.45" y2="211.3" stroke="#000" stroke-width="1.2"/>
<line x1="322.85" y1="211.3" x2="357.11" y2="211.3" stroke="#000" stroke-width="1.2"/>
<line x1="366.51" y1="211.3" x2="378.93" y2="211.3" stroke="#000" stroke-width="1.2"/>
<line x1="388.33" y1="211.3" x2="400.76" y2="211.3" stroke="#000" stroke-width="1.2"/>
<line x1="410.16" y1="211.3" x2="422.59" y2="211.3" stroke="#000" stroke-width="1.2"/>
<line x1="431.99" y1="211.3" x2="433.50" y2="211.3" stroke="#000" stroke-width="1.2"/>
<line x1="442.90" y1="211.3" x2="503.70" y2="211.3" stroke="#000" stroke-width="1.2"/>
<rect x="186.28" y="210.40" width="1.8" height="1.8" fill="#000"/>
<rect x="219.02" y="210.40" width="1.8" height="1.8" fill="#000"/>
<rect x="240.85" y="210.40" width="1.8" height="1.8" fill="#000"/>
<rect x="284.51" y="210.40" width="1.8" height="1.8" fill="#000"/>
<rect x="295.42" y="210.40" width="1.8" height="1.8" fill="#000"/>
<rect x="317.25" y="210.40" width="1.8" height="1.8" fill="#000"/>
<rect x="360.91" y="210.40" width="1.8" height="1.8" fill="#000"/>
<rect x="382.73" y="210.40" width="1.8" height="1.8" fill="#000"/>
<rect x="404.56" y="210.40" width="1.8" height="1.8" fill="#000"/>
<rect x="426.39" y="210.40" width="1.8" height="1.8" fill="#000"/>
<rect x="437.30" y="210.40" width="1.8" height="1.8" fill="#000"/>
<rect x="289.97" y="210.40" width="1.8" height="1.8" fill="#000"/>
<rect x="431.85" y="210.40" width="1.8" height="1.8" fill="#000"/>
<line x1="165.4" y1="208.6" x2="165.4" y2="214.2" stroke="#000" stroke-width="1.2"/>
<line x1="503.7" y1="208.6" x2="503.7" y2="214.2" stroke="#000" stroke-width="1.2"/>
<rect x="0.8" y="0.8" width="517.9" height="361" fill="none" stroke="#000" stroke-width="1.6"/>
<rect x="517.6" y="0" width="2.4" height="363" fill="#000"/>
<rect x="0" y="360.8" width="520" height="2.2" fill="#000"/>
</svg></body></html>
